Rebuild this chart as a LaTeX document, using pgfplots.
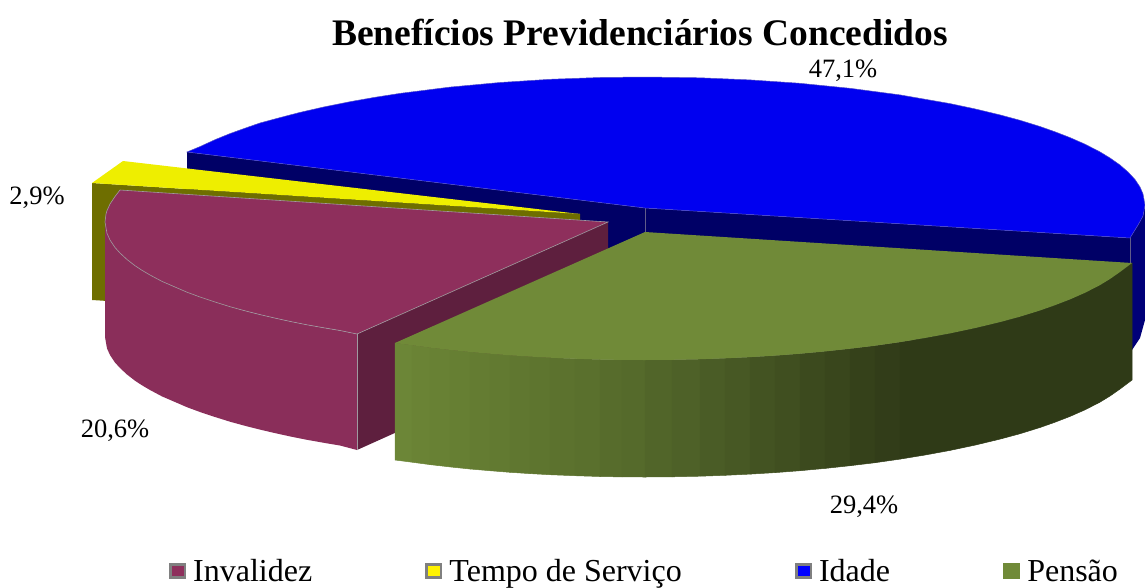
\documentclass[border=0pt]{standalone}
\usepackage{pgfplots}
\pgfplotsset{compat=1.18}
\usepackage{fontspec}
\setmainfont{Liberation Serif}
\definecolor{blT}{HTML}{0000F0}
\definecolor{blW}{HTML}{000066}
\definecolor{blS}{HTML}{000078}
\definecolor{yeT}{HTML}{EEEE00}
\definecolor{yeW}{HTML}{6E6E00}
\definecolor{inT}{HTML}{8E2F5C}
\definecolor{inF}{HTML}{8A2E5A}
\definecolor{inW}{HTML}{5E1F3E}
\definecolor{grT}{HTML}{708A38}
\definecolor{edge}{HTML}{A09AA0}
\newcommand\gs[4]{\addplot[forget plot,draw={rgb,255:red,#1;green,#2;blue,#3},line width=.5pt,fill={rgb,255:red,#1;green,#2;blue,#3}] coordinates {#4} -- cycle;}
\begin{document}
\begin{tikzpicture}
\path[use as bounding box] (0,0) rectangle (1145pt,587pt);
\begin{axis}[
  at={(0pt,0pt)},anchor=south west,
  width=1145pt,height=587pt,scale only axis,
  xmin=0,xmax=1145,ymin=0,ymax=587,y dir=reverse,
  axis lines=none,clip=false,
  legend columns=-1,
  legend cell align=left,
  legend image code/.code={\draw[line width=2.5pt,#1] (0pt,-6.5pt) rectangle (14.5pt,6.5pt);},
  legend style={at={(axis cs:169,571)},anchor=west,draw=none,fill=none,inner sep=0pt,
    font=\fontsize{32}{32}\selectfont,
    nodes={inner sep=0pt,outer sep=0pt},
    /tikz/every even column/.append style={column sep=113.2pt},
    /tikz/every odd column/.append style={column sep=7pt}},
]
% Idade: side, walls, top
\addplot[forget plot,draw=none,fill=blS] coordinates {(1130,238)(1138,225)(1143,216)(1145,205)(1145,320)(1140,338)(1130,353)} -- cycle;
\addplot[forget plot,draw=none,fill=blW] coordinates {(187,152)(645,208)(645,323)(187,267)} -- cycle;
\addplot[forget plot,draw=none,fill=blW] coordinates {(645,208)(1130,238)(1130,353)(645,323)} -- cycle;
\addplot[forget plot,draw=edge!60!blW,line width=.6pt] coordinates {(645,208)(645,233)};
\addplot[forget plot,draw=edge!60!blW,line width=.6pt] coordinates {(1130,238)(1130,263)};
\addplot[forget plot,draw=edge!50!blT,line width=.5pt,fill=blT] coordinates {
(645,208)(187,152)(200,146.6)(215,139.7)(230,133.6)(245,128.2)(260,123)(280,117.6)(300,112.4)(325,106.7)(350,101.7)(375,97.3)(400,93.4)(450,87.1)(500,82.5)(550,79.3)(600,77.5)(645,77)
(700,77.8)(750,79.9)(800,83.3)(850,88.3)(900,94.9)(950,103.6)(975,108.9)(1000,114.9)(1020,120.3)(1040,126.5)(1055,131.8)(1070,137.6)(1085,144.2)(1100,151.9)(1110,158)(1120,165)(1128,172)(1135,179.5)(1140,187)(1143,194)(1145,205)(1143,216)(1138,225)(1130,238)} -- cycle;
% Tempo de Servico
\addplot[forget plot,draw=none,fill=yeW] coordinates {(92,183)(580,214)(580,331)(92,300)} -- cycle;
\addplot[forget plot,draw=none,fill=yeT] coordinates {(123,161)(580,214)(92,183)} -- cycle;
% Invalidez
\addplot[forget plot,draw=none,fill=inW] coordinates {(357,334)(608,222)(608,337)(357,450)} -- cycle;
\addplot[forget plot,draw=none,fill=inF] coordinates {(105,222)(107,233.4)(110,240)(115,247.5)(120,253)(127,259.5)(135,265.7)(142,270.3)(150,275)(162,281.4)(175,287)(187,292.2)(200,297)(215,302)(230,306.7)(245,310.8)(260,314.6)(275,318.1)(290,321.4)(307,324.8)(325,328)(340,330.5)(357,334)
(357,450)(340,445.5)(325,443)(307,439.8)(290,436.4)(275,433.1)(260,429.6)(245,425.8)(230,421.7)(215,417)(200,412)(187,407.2)(175,402)(162,396.4)(150,390)(142,385.3)(135,380.7)(127,374.5)(120,368)(115,362.5)(110,355)(107,348.4)(105,337)} -- cycle;
\addplot[forget plot,draw=edge,line width=.6pt,fill=inT] coordinates {(608,222)(120,190)(115,196.5)(110,204)(107,210.6)(106,214)(105,222)(107,233.4)(110,240)(115,247.5)(120,253)(127,259.5)(135,265.7)(142,270.3)(150,275)(162,281.4)(175,287)(187,292.2)(200,297)(215,302)(230,306.7)(245,310.8)(260,314.6)(275,318.1)(290,321.4)(307,324.8)(325,328)(340,330.5)(357,334)} -- cycle;
\addplot[forget plot,draw=edge,line width=.6pt] coordinates {(357,334)(357,450)};
% Pensao: front wall in shaded strips, then top
\gs{108}{134}{55}{(395,343)(412,345.2)(412,462.2)(395,460)}
\gs{106}{131}{53}{(412,345.2)(430,347.6)(430,464.6)(412,462.2)}
\gs{104}{129}{52}{(430,347.6)(450,349.9)(450,466.9)(430,464.6)}
\gs{102}{127}{51}{(450,349.9)(470,352)(470,469)(450,466.9)}
\gs{100}{124}{50}{(470,352)(490,353.7)(490,470.7)(470,469)}
\gs{98}{122}{49}{(490,353.7)(510,355.3)(510,472.3)(490,470.7)}
\gs{96}{119}{48}{(510,355.3)(530,356.6)(530,473.6)(510,472.3)}
\gs{94}{117}{47}{(530,356.6)(550,357.7)(550,474.7)(530,473.6)}
\gs{92}{114}{46}{(550,357.7)(575,358.7)(575,475.7)(550,474.7)}
\gs{90}{112}{45}{(575,358.7)(600,359.5)(600,476.5)(575,475.7)}
\gs{87}{108}{44}{(600,359.5)(622,359.9)(622,476.9)(600,476.5)}
\gs{85}{106}{43}{(622,359.9)(645,360)(645,477)(622,476.9)}
\gs{81}{101}{41}{(645,360)(672,359.8)(672,476.8)(645,477)}
\gs{78}{97}{40}{(672,359.8)(700,359.2)(700,476.2)(672,476.8)}
\gs{74}{92}{38}{(700,359.2)(725,358.3)(725,475.3)(700,476.2)}
\gs{71}{88}{36}{(725,358.3)(750,357.1)(750,474.1)(725,475.3)}
\gs{67}{83}{34}{(750,357.1)(775,355.6)(775,472.6)(750,474.1)}
\gs{64}{79}{32}{(775,355.6)(800,353.7)(800,470.7)(775,472.6)}
\gs{60}{74}{30}{(800,353.7)(825,351.4)(825,468.4)(800,470.7)}
\gs{57}{70}{28}{(825,351.4)(850,348.7)(850,465.7)(825,468.4)}
\gs{53}{65}{26}{(850,348.7)(875,345.7)(875,462.7)(850,465.7)}
\gs{50}{61}{25}{(875,345.7)(900,342.1)(900,459.1)(875,462.7)}
\gs{47}{58}{23}{(900,342.1)(925,338)(950,333.4)(975,328.1)(1000,322.1)(1020,316.7)(1040,310.5)(1055,305.2)(1070,299.4)(1085,292.8)(1100,285.1)(1110,279)(1120,272)(1132,263)(1132,380)(1120,389)(1110,396)(1100,402.1)(1085,409.8)(1070,416.4)(1055,422.2)(1040,427.5)(1020,433.7)(1000,439.1)(975,445.1)(950,450.4)(925,455)(900,459.1)}
\addplot[forget plot,draw=none,fill=grT] coordinates {(645,232)(395,343)(412,345.2)(430,347.6)(450,349.9)(470,352)(490,353.7)(510,355.3)(530,356.6)(550,357.7)(575,358.7)(600,359.5)(622,359.9)(645,360)(672,359.8)(700,359.2)(725,358.3)(750,357.1)(775,355.6)(800,353.7)(825,351.4)(850,348.7)(875,345.7)(900,342.1)(925,338)(950,333.4)(975,328.1)(1000,322.1)(1020,316.7)(1040,310.5)(1055,305.2)(1070,299.4)(1085,292.8)(1100,285.1)(1110,279)(1120,272)(1132,263)} -- cycle;
% legend
\addlegendimage{fill=inT,draw=gray}
\addlegendentry{Invalidez}
\addlegendimage{fill=yellow,draw=gray}
\addlegendentry{Tempo de Serviço}
\addlegendimage{fill=blue,draw=gray}
\addlegendentry{Idade}
\addlegendimage{fill=grT,draw=grT,line width=.5pt}
\addlegendentry{Pensão}
% labels
\node[font=\fontsize{37.5}{37.5}\selectfont\bfseries] at (axis cs:640,32) {Benefícios Previdenciários Concedidos};
\node[font=\fontsize{26.5}{26.5}\selectfont] at (axis cs:843,71) {47,1\%};
\node[font=\fontsize{26.5}{26.5}\selectfont] at (axis cs:37,198) {2,9\%};
\node[font=\fontsize{26.5}{26.5}\selectfont] at (axis cs:115,431) {20,6\%};
\node[font=\fontsize{26.5}{26.5}\selectfont] at (axis cs:864,507) {29,4\%};
\end{axis}
\end{tikzpicture}
\end{document}
